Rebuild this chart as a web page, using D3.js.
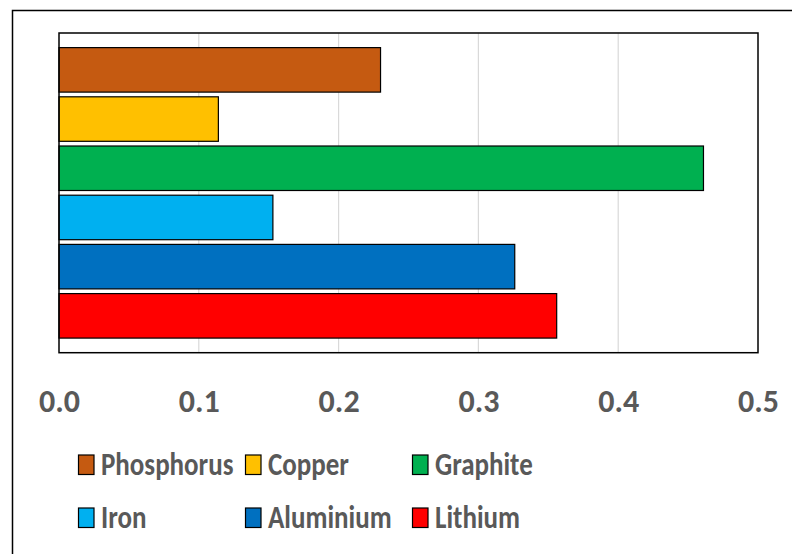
<!DOCTYPE html>
<html><head><meta charset="utf-8">
<script src="https://cdn.jsdelivr.net/npm/d3@7"></script>
<style>html,body{margin:0;padding:0;background:#fff}svg{display:block}</style>
</head><body>
<script>
const series = ["Phosphorus","Copper","Graphite","Iron","Aluminium","Lithium"];
const values = [0.23, 0.114, 0.461, 0.153, 0.326, 0.356];
const colors = ["#C55A11","#FFC000","#00B050","#00B0F0","#0070C0","#FF0000"];
const ticks = [0, 0.1, 0.2, 0.3, 0.4, 0.5];

const W = 792, H = 554;
const svg = d3.select("body").append("svg").attr("width", W).attr("height", H);
const FONT = "Carlito, Lato, 'Open Sans', sans-serif";

// outer chart frame (clipped at right/bottom)
svg.append("rect").attr("x", 12.5).attr("y", 10.5).attr("width", 820).attr("height", 620)
  .attr("fill", "none").attr("stroke", "#000").attr("stroke-width", 1.5);

const L = 59, R = 758, T = 33, B = 352.7;
const x = d3.scaleLinear().domain([0, 0.5]).range([L, R]);
const y = d3.scaleBand().domain(series).range([T, B]).paddingInner(0.0955).paddingOuter(0.297);

// gridlines
svg.append("g").selectAll("line").data(ticks.slice(1, -1)).join("line")
  .attr("x1", d => x(d)).attr("x2", d => x(d)).attr("y1", T).attr("y2", B)
  .attr("stroke", "#d9d9d9").attr("stroke-width", 1.2);

// bars
svg.append("g").selectAll("rect").data(series).join("rect")
  .attr("x", x(0)).attr("y", d => y(d))
  .attr("width", (d, i) => x(values[i]) - x(0)).attr("height", y.bandwidth())
  .attr("fill", (d, i) => colors[i]).attr("stroke", "#000").attr("stroke-width", 1.2);

// plot border
svg.append("rect").attr("x", L).attr("y", T).attr("width", R - L).attr("height", B - T)
  .attr("fill", "none").attr("stroke", "#000").attr("stroke-width", 1.5);

// x axis labels
const ax = svg.append("g").attr("transform", `translate(0,${412})`)
  .call(d3.axisBottom(x).tickValues(ticks).tickFormat(d3.format(".1f")).tickSize(0).tickPadding(0));
ax.select(".domain").remove();
ax.selectAll("text").attr("dy", 0).attr("fill", "#595959")
  .style("font-family", FONT).style("font-weight", "bold").style("font-size", "32px");

// legend
const legendPos = [[78, 475], [245, 475], [412, 475], [78, 528], [245, 528], [412, 528]];
const lg = svg.append("g").selectAll("g").data(series).join("g")
  .attr("transform", (d, i) => `translate(${legendPos[i][0]},${legendPos[i][1]})`);
lg.append("rect").attr("x", 0.5).attr("y", -20).attr("width", 15.5).attr("height", 19.5)
  .attr("fill", (d, i) => colors[i]).attr("stroke", "#000").attr("stroke-width", 1.2);
lg.append("text").attr("transform", "translate(23,0) scale(1,1.2)").text(d => d)
  .attr("fill", "#595959").style("font-family", FONT).style("font-weight", "bold").style("font-size", "27px");
</script>
</body></html>
